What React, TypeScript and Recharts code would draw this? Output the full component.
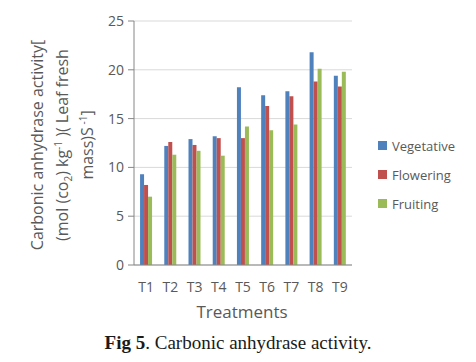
import { Bar, BarChart, CartesianGrid, XAxis, YAxis } from 'recharts';

const treatments = ['T1', 'T2', 'T3', 'T4', 'T5', 'T6', 'T7', 'T8', 'T9'];
const vegetative = [9.3, 12.2, 12.9, 13.2, 18.2, 17.4, 17.8, 21.8, 19.4];
const flowering = [8.2, 12.6, 12.3, 13.0, 13.0, 16.3, 17.3, 18.8, 18.3];
const fruiting = [7.0, 11.3, 11.7, 11.2, 14.2, 13.8, 14.4, 20.1, 19.8];
const yTicks = [0, 5, 10, 15, 20, 25];

const series = [
  { key: 'vegetative', name: 'Vegetative', color: '#4F81BD' },
  { key: 'flowering', name: 'Flowering', color: '#C0504D' },
  { key: 'fruiting', name: 'Fruiting', color: '#9BBB59' },
];

const data = treatments.map((t, i) => ({
  treatment: t,
  vegetative: vegetative[i],
  flowering: flowering[i],
  fruiting: fruiting[i],
}));

const axisFont = '"Open Sans", "Liberation Sans", sans-serif';
const small = { fontSize: 10, lineHeight: 0, position: 'relative' as const };

export default function App() {
  return (
    <div style={{ position: 'fixed', left: 0, top: 0, width: 476, height: 362, background: '#fff' }}>
      <BarChart
        width={476}
        height={362}
        data={data}
        margin={{ top: 21, right: 124, left: 0, bottom: 0 }}
        barCategoryGap="25%"
        barGap={0}
      >
        <CartesianGrid vertical={false} stroke="#d9d9d9" />
        <XAxis
          dataKey="treatment"
          interval={0}
          tickLine={false}
          axisLine={{ stroke: '#868686' }}
          tick={{ fill: '#595959', fontSize: 14, fontFamily: axisFont }}
          tickMargin={11}
          height={97}
        />
        <YAxis
          domain={[0, 25]}
          ticks={yTicks}
          width={134}
          tickSize={6}
          tickLine={{ stroke: '#868686' }}
          axisLine={{ stroke: '#868686' }}
          tick={{ fill: '#595959', fontSize: 14, fontFamily: axisFont }}
          tickMargin={4}
        />
        {series.map((s) => (
          <Bar key={s.key} dataKey={s.key} name={s.name} fill={s.color} isAnimationActive={false} />
        ))}
      </BarChart>
      <div style={{ position: 'absolute', left: 378, top: 131, fontFamily: axisFont, fontSize: 13, color: '#595959' }}>
        {series.map((s) => (
          <div key={s.key} style={{ display: 'flex', alignItems: 'center', height: 29 }}>
            <span style={{ width: 9, height: 9, background: s.color, marginRight: 5, display: 'inline-block' }} />
            <span>{s.name}</span>
          </div>
        ))}
      </div>
      <div
        style={{
          position: 'absolute',
          left: 62,
          top: 145,
          transform: 'translate(-50%, -50%) rotate(-90deg)',
          fontFamily: axisFont,
          fontSize: 16,
          lineHeight: '25px',
          color: '#595959',
          textAlign: 'center',
          whiteSpace: 'nowrap',
        }}
      >
        <div>Carbonic anhydrase activity[</div>
        <div>
          (mol (co<span style={{ ...small, top: 4 }}>2</span>) kg<span style={{ ...small, top: -6 }}>-1</span> )( Leaf fresh
        </div>
        <div>
          mass)S<span style={{ ...small, top: -6 }}> -1</span>]
        </div>
      </div>
      <div
        style={{
          position: 'absolute',
          left: 0,
          width: 476,
          top: 300,
          textAlign: 'center',
          paddingLeft: 8,
          boxSizing: 'border-box',
          fontFamily: axisFont,
          fontSize: 17,
          color: '#595959',
        }}
      >
        Treatments
      </div>
      <div
        style={{
          position: 'absolute',
          left: 0,
          width: 476,
          top: 332,
          textAlign: 'center',
          fontFamily: '"Liberation Serif", serif',
          fontSize: 19,
          color: '#1a1a1a',
        }}
      >
        <b>Fig 5</b>. Carbonic anhydrase activity.
      </div>
    </div>
  );
}
